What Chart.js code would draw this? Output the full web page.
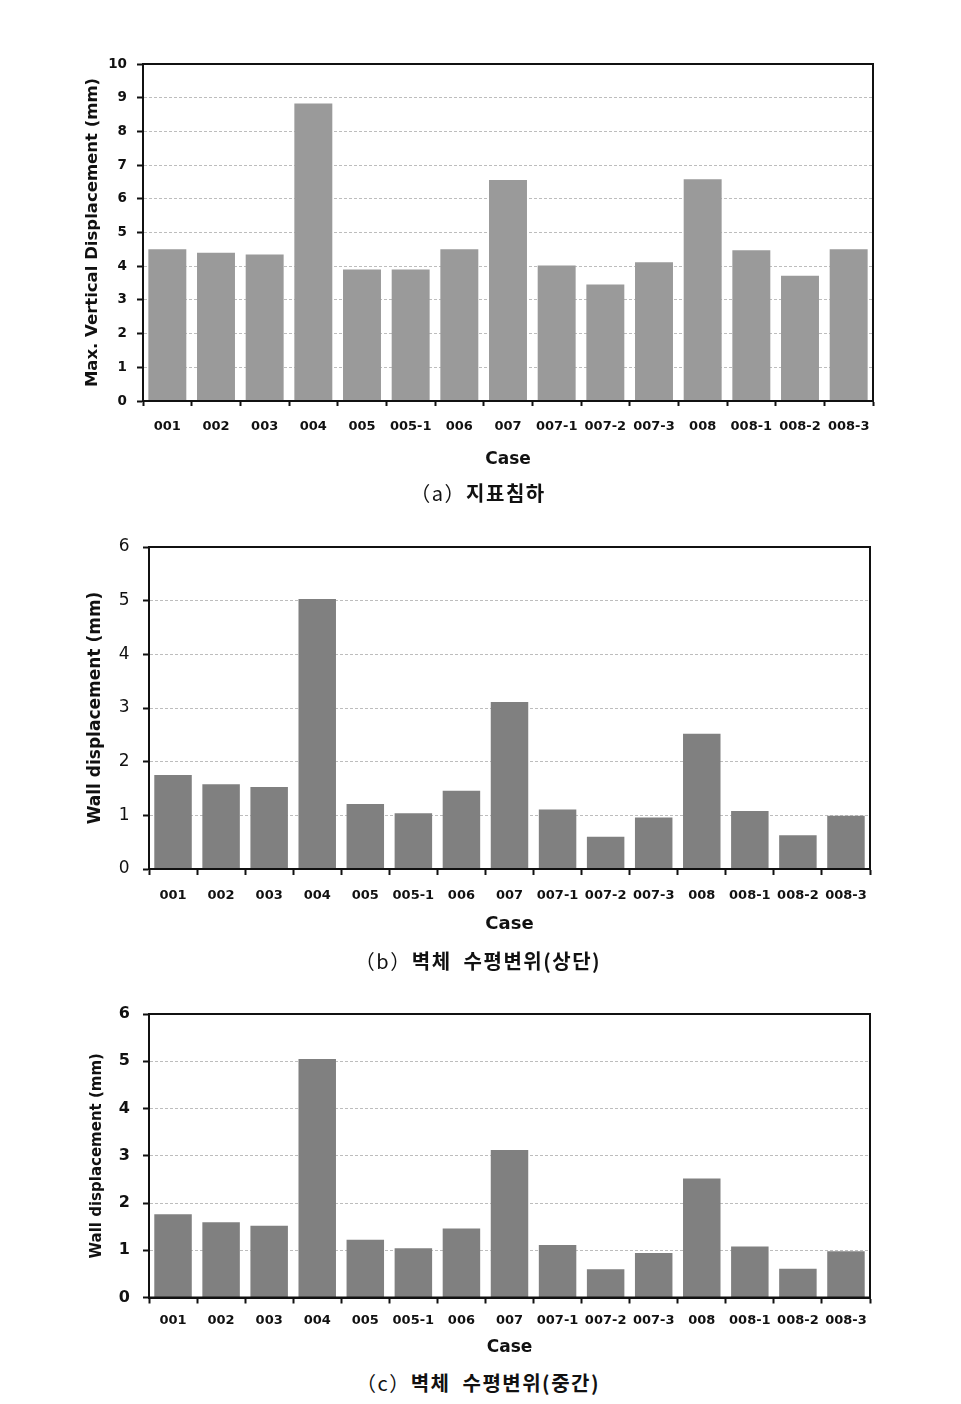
<!DOCTYPE html>
<html>
<head>
<meta charset="utf-8">
<script src="https://cdn.jsdelivr.net/npm/chart.js@4.4.0/dist/chart.umd.min.js"></script>
<style>
  body { margin: 0; background: #fff; width: 961px; height: 1404px; position: relative; overflow: hidden; }
  canvas { position: absolute; left: 0; }
  .cap { position: absolute; left: 0; width: 956px; text-align: center; font-family: "Noto Sans CJK KR", sans-serif; font-size: 20px; letter-spacing: 1.5px; color: #111; line-height: 24px; }
  .cap b { font-weight: 700; }
</style>
</head>
<body>
<canvas id="chartA" width="961" height="440" style="top:40px"></canvas>
<div class="cap" style="top:481px">（a）<b>지표침하</b></div>
<canvas id="chartB" width="961" height="430" style="top:520px"></canvas>
<div class="cap" style="top:949px">（b）<b>벽체&nbsp; 수평변위(상단)</b></div>
<canvas id="chartC" width="961" height="370" style="top:990px"></canvas>
<div class="cap" style="top:1371px">（c）<b>벽체&nbsp; 수평변위(중간)</b></div>

<script>
const cases = ['001', '002', '003', '004', '005', '005-1', '006', '007', '007-1', '007-2', '007-3', '008', '008-1', '008-2', '008-3'];
// (a) max vertical displacement of ground surface (mm)
const surfaceSettlement = [4.5, 4.4, 4.35, 8.83, 3.9, 3.9, 4.5, 6.56, 4.02, 3.46, 4.12, 6.58, 4.47, 3.72, 4.5];
// (b) wall horizontal displacement, top (mm)
const wallTop = [1.75, 1.58, 1.53, 5.03, 1.21, 1.04, 1.46, 3.11, 1.11, 0.6, 0.96, 2.52, 1.08, 0.63, 0.99];
// (c) wall horizontal displacement, middle (mm)
const wallMid = [1.76, 1.59, 1.52, 5.05, 1.22, 1.04, 1.46, 3.12, 1.11, 0.6, 0.94, 2.52, 1.08, 0.61, 0.98];

const yMaxA = 10, yMaxB = 6, yMaxC = 6;
const xTitle = 'Case';
const yTitleA = 'Max. Vertical Displacement (mm)';
const yTitleB = 'Wall displacement (mm)';
const yTitleC = 'Wall displacement (mm)';

const FONT = '"DejaVu Sans", Verdana, sans-serif';

// draws the closed black box round the plot area
const frame = {
  id: 'frame',
  afterDraw(chart) {
    const { ctx, chartArea: a } = chart;
    ctx.save();
    ctx.strokeStyle = '#111';
    ctx.lineWidth = 2;
    ctx.strokeRect(a.left, a.top, a.right - a.left, a.bottom - a.top);
    ctx.restore();
  }
};

function makeChart(id, values, cfg) {
  return new Chart(document.getElementById(id), {
    type: 'bar',
    data: {
      labels: cases,
      datasets: [{
        data: values,
        backgroundColor: cfg.barColor,
        barPercentage: 0.78,
        categoryPercentage: 1
      }]
    },
    plugins: [frame],
    options: {
      responsive: false,
      animation: false,
      layout: { padding: { top: cfg.padTop, right: cfg.padRight, left: 0, bottom: 0 } },
      plugins: { legend: { display: false }, tooltip: { enabled: false } },
      scales: {
        x: {
          offset: true,
          afterFit: s => { s.height = cfg.xHeight; },
          border: { color: '#111', width: 2 },
          grid: { offset: true, drawOnChartArea: false, tickLength: cfg.xTickLen, tickColor: '#111', tickWidth: 2 },
          ticks: { color: '#111', padding: cfg.xTickPad, maxRotation: 0, autoSkip: false,
                   font: { family: FONT, size: cfg.xFont, weight: 'bold' } },
          title: { display: true, text: xTitle, color: '#111',
                   padding: { top: 0, bottom: cfg.caseBottom },
                   font: { family: FONT, size: cfg.caseFont, weight: 'bold' } }
        },
        y: {
          min: 0,
          max: cfg.yMax,
          afterFit: s => { s.width = cfg.yWidth; },
          border: { color: '#111', width: 2, dash: [3, 2] },
          grid: { color: '#bdbdbd', tickBorderDash: [], tickColor: '#111',
                  tickWidth: 2, tickLength: 6 },
          ticks: { stepSize: 1, color: '#111', padding: cfg.yTickPad,
                   font: { family: FONT, size: cfg.yFont, weight: cfg.yWeight } },
          title: { display: true, text: cfg.yTitle, color: '#111',
                   padding: { top: cfg.yTitleTop, bottom: 0 },
                   font: { family: FONT, size: cfg.yTitleFont, weight: 'bold' } }
        }
      }
    }
  });
}

makeChart('chartA', surfaceSettlement, {
  barColor: '#9a9a9a', yMax: yMaxA, yTitle: yTitleA,
  padTop: 24, padRight: 88, yWidth: 143, xHeight: 79,
  xTickLen: 5, xTickPad: 13, xFont: 13, caseFont: 17, caseBottom: 10,
  yTickPad: 10, yFont: 13.5, yWeight: 'bold', yTitleFont: 16.5, yTitleTop: 83
});

makeChart('chartB', wallTop, {
  barColor: '#808080', yMax: yMaxB, yTitle: yTitleB,
  padTop: 27, padRight: 91, yWidth: 149, xHeight: 81,
  xTickLen: 6, xTickPad: 13, xFont: 13, caseFont: 18, caseBottom: 15,
  yTickPad: 13.5, yFont: 17, yWeight: 'normal', yTitleFont: 17, yTitleTop: 85
});

makeChart('chartC', wallMid, {
  barColor: '#808080', yMax: yMaxC, yTitle: yTitleC,
  padTop: 24, padRight: 91, yWidth: 149, xHeight: 62.5,
  xTickLen: 6, xTickPad: 9.5, xFont: 13, caseFont: 17, caseBottom: 2,
  yTickPad: 13, yFont: 16, yWeight: 'bold', yTitleFont: 15, yTitleTop: 88
});
</script>
</body>
</html>
